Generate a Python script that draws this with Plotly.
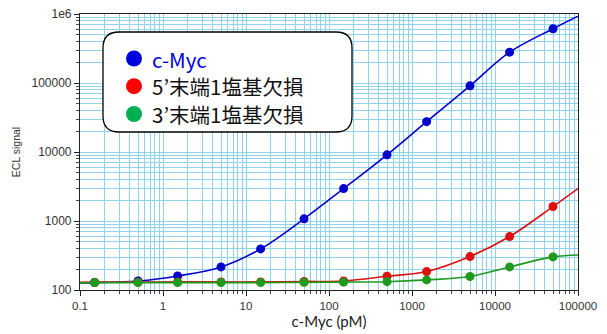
import plotly.graph_objects as go

conc = [0.15, 0.5, 1.5, 5, 15, 50, 150, 500, 1500, 5000, 15000, 50000]
cmyc = [128, 135, 160, 216, 394, 1075, 2950, 9100, 27500, 91000, 280000, 612000]
del5 = [130, 130, 131, 131, 131, 133, 135, 158, 185, 305, 595, 1620]
del3 = [128, 128, 128, 128, 128, 129, 130, 132, 140, 157, 216, 302]

curve_x = [0.1] + conc + [100000]
cmyc_curve = [127] + cmyc + [930000]
del5_curve = [129] + del5 + [2950]
del3_curve = [127] + del3 + [322]

legend_names = ["c-Myc", "5’末端1塩基欠損", "3’末端1塩基欠損"]
legend_text_colors = ["#0000DD", "#111111", "#111111"]
line_colors = ["#0000CC", "#DD1111", "#1E9A1E"]
dot_colors = ["#0000CC", "#DD1111", "#1E9A1E"]
legend_colors = ["#0000DD", "#FF0000", "#00B050"]

x_ticks = [0.1, 1, 10, 100, 1000, 10000, 100000]
x_ticktext = ["0.1", "1", "10", "100", "1000", "10000", "100000"]
y_ticks = [100, 1000, 10000, 100000, 1000000]
y_ticktext = ["100", "1000", "10000", "100000", "1e6"]

fig = go.Figure()
for ys, cy, lc, dc, nm in [
    (cmyc, cmyc_curve, line_colors[0], dot_colors[0], legend_names[0]),
    (del5, del5_curve, line_colors[1], dot_colors[1], legend_names[1]),
    (del3, del3_curve, line_colors[2], dot_colors[2], legend_names[2]),
]:
    fig.add_trace(go.Scatter(x=curve_x, y=cy, mode="lines", line=dict(color=lc, width=1.6, shape="spline"),
                             showlegend=False, hoverinfo="skip"))
    fig.add_trace(go.Scatter(x=conc, y=ys, mode="markers", marker=dict(color=dc, size=9),
                             name=nm, showlegend=False))

grid = "#8FD3EC"
L, R, T, B = 80, 29, 14, 44
W, H = 607, 334
pw, ph = W - L - R, H - T - B

def px_x(p):
    return (p - L) / pw

def px_y(p):
    return (H - B - p) / ph

# rounded legend box
x0, x1 = px_x(103), px_x(352)
y0, y1 = px_y(132), px_y(32)
rx, ry = 16 / pw, 16 / ph
path = (f"M {x0+rx},{y0} L {x1-rx},{y0} Q {x1},{y0} {x1},{y0+ry} L {x1},{y1-ry} "
        f"Q {x1},{y1} {x1-rx},{y1} L {x0+rx},{y1} Q {x0},{y1} {x0},{y1-ry} "
        f"L {x0},{y0+ry} Q {x0},{y0} {x0+rx},{y0} Z")
fig.add_shape(type="path", path=path, xref="paper", yref="paper", layer="above",
              fillcolor="white", line=dict(color="black", width=1.3))

# legend entries (custom, drawn inside the rounded box)
row_y = [58.5, 86.2, 114]
for i, (nm, tc, mc) in enumerate(zip(legend_names, legend_text_colors, legend_colors)):
    cy = row_y[i]
    fig.add_shape(type="circle", xref="paper", yref="paper", layer="above",
                  x0=px_x(134 - 8), x1=px_x(134 + 8), y0=px_y(cy + 8), y1=px_y(cy - 8),
                  fillcolor=mc, line=dict(width=0))
    fig.add_annotation(x=px_x(151), y=px_y(cy), xref="paper", yref="paper",
                       xanchor="left", yanchor="middle", showarrow=False, text=nm,
                       borderpad=0,
                       font=dict(family="Noto Sans CJK JP", size=20.5, color=tc))

axis_common = dict(
    type="log", showgrid=True, gridcolor=grid, gridwidth=1, automargin=False,
    ticks="outside", ticklen=5, tickcolor="#222", linecolor="#222", linewidth=1.2,
    mirror=True, zeroline=False,
    minor=dict(showgrid=True, gridcolor=grid, gridwidth=1, ticks="outside", ticklen=3,
               tickcolor="#444", dtick="D1"),
)
fig.update_xaxes(**axis_common, range=[-1, 5], tickvals=x_ticks, ticktext=x_ticktext,
                 tickfont=dict(family="Liberation Sans, Arial", size=11.5, color="#333"),
                 title=dict(text="c-Myc (pM)", font=dict(family="Lato, Noto Sans", size=15, color="#222"), standoff=3))
fig.update_yaxes(**axis_common, range=[2, 6], tickvals=y_ticks, ticktext=y_ticktext,
                 tickfont=dict(family="Liberation Sans, Arial", size=12, color="#333"),
                 title=dict(text="ECL signal", font=dict(family="Liberation Sans, Arial", size=10.5, color="#333"), standoff=8))

fig.update_layout(
    width=W, height=H,
    margin=dict(l=L, r=R, t=T, b=B, autoexpand=False),
    plot_bgcolor="white", paper_bgcolor="white",
    showlegend=False,
)

fig.write_html("out.html", config={"displayModeBar": False},
               post_script="document.body.style.margin='0px';")
